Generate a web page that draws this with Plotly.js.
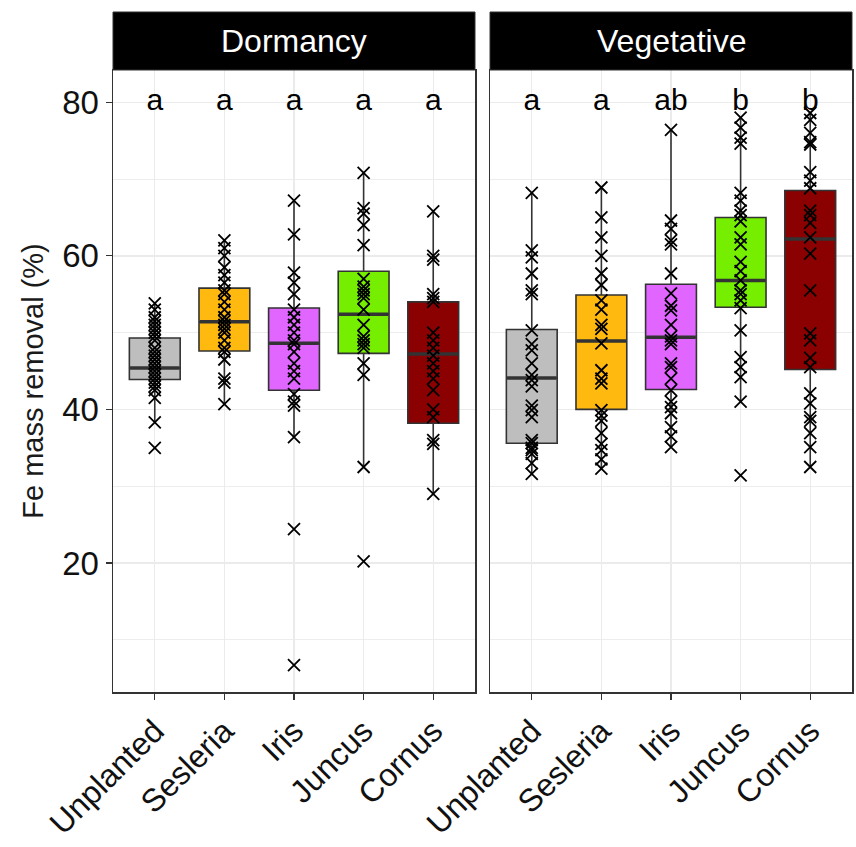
<!DOCTYPE html>
<html>
<head>
<meta charset="utf-8">
<script src="https://cdn.plot.ly/plotly-3.0.1.min.js"></script>
<style>html,body{margin:0;padding:0;background:#fff;}#chart{width:856px;height:847px;}</style>
</head>
<body>
<div id="chart"></div>
<script>
// ---- Data ----
const categories = ["Unplanted", "Sesleria", "Iris", "Juncus", "Cornus"];
const facets = ["Dormancy", "Vegetative"];
const fillColors = ["#BEBEBE", "#FFB90F", "#E066FF", "#76EE00", "#8B0000"];

// Box statistics
const dormQ1 = [43.9, 47.6, 42.5, 47.3, 38.2];
const dormMedian = [45.4, 51.4, 48.6, 52.4, 47.2];
const dormQ3 = [49.3, 55.8, 53.2, 58.0, 54.0];
const dormLower = [38.3, 40.7, 36.4, 32.5, 29.0];
const dormUpper = [53.8, 62.0, 67.2, 70.8, 65.8];

const vegQ1 = [35.6, 40.0, 42.6, 53.3, 45.2];
const vegMedian = [44.1, 48.9, 49.4, 56.8, 62.2];
const vegQ3 = [50.4, 54.9, 56.3, 65.0, 68.5];
const vegLower = [31.6, 32.3, 35.1, 41.0, 32.5];
const vegUpper = [68.2, 68.9, 76.4, 78.0, 78.6];

// Individual observations
const dormUnplanted = [53.8, 53, 52, 51.5, 51, 50.5, 50, 49.5, 49, 48, 47.5, 47, 46.5, 46, 45.5, 45, 44.5, 44, 43.5, 43, 42.5, 41.5, 38.3, 35];
const dormSesleria = [62, 61, 60, 58.5, 57.5, 56.5, 55.5, 55, 54, 53, 52, 51.5, 51, 50.5, 50, 49, 48, 47.5, 46.5, 44, 43.5, 40.7];
const dormIris = [67.2, 62.8, 57.8, 56.5, 55, 53, 52, 51, 50, 49, 48.5, 47.5, 46, 45, 44, 42, 41, 40.5, 36.4, 24.4, 6.7];
const dormJuncus = [70.8, 66.2, 65.5, 64, 61.4, 57, 56, 55.5, 55, 54.5, 53, 51, 49.5, 49, 48.5, 48, 46, 44.5, 32.5, 20.2];
const dormCornus = [65.8, 60, 59.5, 55, 54.5, 54, 50, 49, 48, 47, 46, 45, 44, 42.5, 40, 39, 36, 35.5, 29];

const vegUnplanted = [68.2, 60.7, 59.8, 57.7, 55.5, 55, 50.3, 48.5, 47.7, 46, 44.5, 43.8, 43, 40.5, 39.9, 39, 36, 35.6, 35, 34.7, 34.2, 33, 31.6];
const vegSesleria = [68.9, 65, 62.4, 60, 57.7, 56.2, 54.2, 53, 51, 50.5, 48.6, 45.1, 44, 43.4, 39.9, 39.2, 38.5, 36.9, 35.5, 34.7, 33.5, 32.3];
const vegIris = [76.4, 64.6, 63.5, 62, 61.5, 57.7, 55.1, 53.5, 52.9, 51, 49.5, 49, 48.5, 46, 45.5, 44, 42.5, 41, 40.3, 39.5, 37.7, 36.5, 35.1];
const vegJuncus = [78, 76.7, 75.4, 74.6, 68.2, 67.2, 65.9, 65.3, 64.5, 62.4, 61.5, 59.2, 58, 56.8, 55.5, 55, 54.2, 53.2, 50.3, 46.8, 45.5, 44.2, 41, 31.4];
const vegCornus = [78.6, 77.7, 76, 74.8, 74.5, 70.9, 69.8, 68.8, 65.9, 65.3, 64.3, 62.4, 60.3, 55.5, 49.9, 49, 46.7, 45.5, 42.1, 40.8, 39, 38.5, 36.9, 35.1, 32.5];

// Significance letters
const dormLetters = ["a", "a", "a", "a", "a"];
const vegLetters = ["a", "a", "ab", "b", "b"];
const letterY = 80;

// ---- Build traces ----
const FONT = "Liberation Sans, Arial, sans-serif";
const boxWidth = 0.73;
const panels = [
  {xa: "x", ya: "y", q1: dormQ1, med: dormMedian, q3: dormQ3, lo: dormLower, hi: dormUpper,
   pts: [dormUnplanted, dormSesleria, dormIris, dormJuncus, dormCornus], letters: dormLetters},
  {xa: "x2", ya: "y2", q1: vegQ1, med: vegMedian, q3: vegQ3, lo: vegLower, hi: vegUpper,
   pts: [vegUnplanted, vegSesleria, vegIris, vegJuncus, vegCornus], letters: vegLetters}
];
const traces = [];
panels.forEach(p => {
  categories.forEach((c, i) => {
    traces.push({
      type: "box", xaxis: p.xa, yaxis: p.ya, x: [i],
      q1: [p.q1[i]], median: [p.med[i]], q3: [p.q3[i]],
      lowerfence: [p.lo[i]], upperfence: [p.hi[i]],
      boxpoints: false, width: boxWidth, whiskerwidth: 0,
      fillcolor: fillColors[i], line: {color: "#333333", width: 1.6},
      showlegend: false, hoverinfo: "skip", name: c
    });
    // thicker median line (ggplot style)
    traces.push({
      type: "scatter", mode: "lines", xaxis: p.xa, yaxis: p.ya,
      x: [i - boxWidth / 2 + 0.01, i + boxWidth / 2 - 0.01], y: [p.med[i], p.med[i]],
      line: {color: "#333333", width: 3.5}, showlegend: false, hoverinfo: "skip"
    });
  });
  categories.forEach((c, i) => {
    traces.push({
      type: "scatter", mode: "markers", xaxis: p.xa, yaxis: p.ya,
      x: p.pts[i].map(() => i), y: p.pts[i],
      marker: {symbol: "x-thin-open", size: 12, color: "#000", line: {color: "#000", width: 1.8}},
      showlegend: false, hoverinfo: "skip"
    });
  });
  traces.push({
    type: "scatter", mode: "text", xaxis: p.xa, yaxis: p.ya,
    x: categories.map((c, i) => i), y: categories.map(() => letterY),
    text: p.letters, textposition: "middle center",
    textfont: {family: FONT, size: 30, color: "#000"},
    showlegend: false, hoverinfo: "skip", cliponaxis: false
  });
});

const gridColor = "#EBEBEB";
const xBase = {
  range: [-0.6, 4.6], tickmode: "array", tickvals: [0, 1, 2, 3, 4], ticktext: categories,
  tickangle: -45, tickfont: {family: FONT, size: 32, color: "#111"},
  ticks: "outside", ticklen: 6, tickcolor: "#333", tickwidth: 1.3,
  showgrid: true, gridcolor: gridColor, gridwidth: 1.4,
  showline: true, mirror: true, linecolor: "#333", linewidth: 1.5,
  zeroline: false, automargin: false, fixedrange: true
};
const yBase = {
  range: [3.2, 84.2], tickmode: "array", tickvals: [20, 40, 60, 80],
  ticks: "outside", ticklen: 6, tickcolor: "#333", tickwidth: 1.3,
  tickfont: {family: FONT, size: 33, color: "#111"},
  showgrid: true, gridcolor: gridColor, gridwidth: 1.4,
  minor: {tickvals: [10, 30, 50, 70], showgrid: true, gridcolor: gridColor, gridwidth: 0.9, ticks: ""},
  showline: true, mirror: true, linecolor: "#333", linewidth: 1.5,
  zeroline: false, automargin: false, fixedrange: true
};

const stripTop = 1 + 58 / 622;
const shapes = [];
const annotations = [];
[["x", "y"], ["x2", "y2"]].forEach((ax, k) => {
  shapes.push({
    type: "rect", xref: ax[0] + " domain", yref: ax[1] + " domain",
    x0: 0, x1: 1, y0: 1, y1: stripTop,
    fillcolor: "#000", line: {color: "#333", width: 1}, layer: "above"
  });
  annotations.push({
    xref: ax[0] + " domain", yref: ax[1] + " domain", x: 0.5, y: 1 + 29 / 622,
    text: facets[k], showarrow: false, xanchor: "center", yanchor: "middle",
    font: {family: FONT, size: 32, color: "#fff"}
  });
});

const layout = {
  width: 856, height: 847,
  margin: {l: 113, r: 4, t: 70, b: 155},
  paper_bgcolor: "#fff", plot_bgcolor: "#fff",
  showlegend: false,
  xaxis: Object.assign({}, xBase, {domain: [0, 362 / 739], anchor: "y"}),
  xaxis2: Object.assign({}, xBase, {domain: [377 / 739, 1], anchor: "y2"}),
  yaxis: Object.assign({}, yBase, {anchor: "x",
    title: {text: "Fe mass removal (%)", font: {family: FONT, size: 29, color: "#1a1a1a"}, standoff: 10}}),
  yaxis2: Object.assign({}, yBase, {anchor: "x2", matches: "y", showticklabels: false, ticks: ""}),
  shapes: shapes, annotations: annotations
};

Plotly.newPlot("chart", traces, layout, {staticPlot: true, displayModeBar: false});
</script>
</body>
</html>
